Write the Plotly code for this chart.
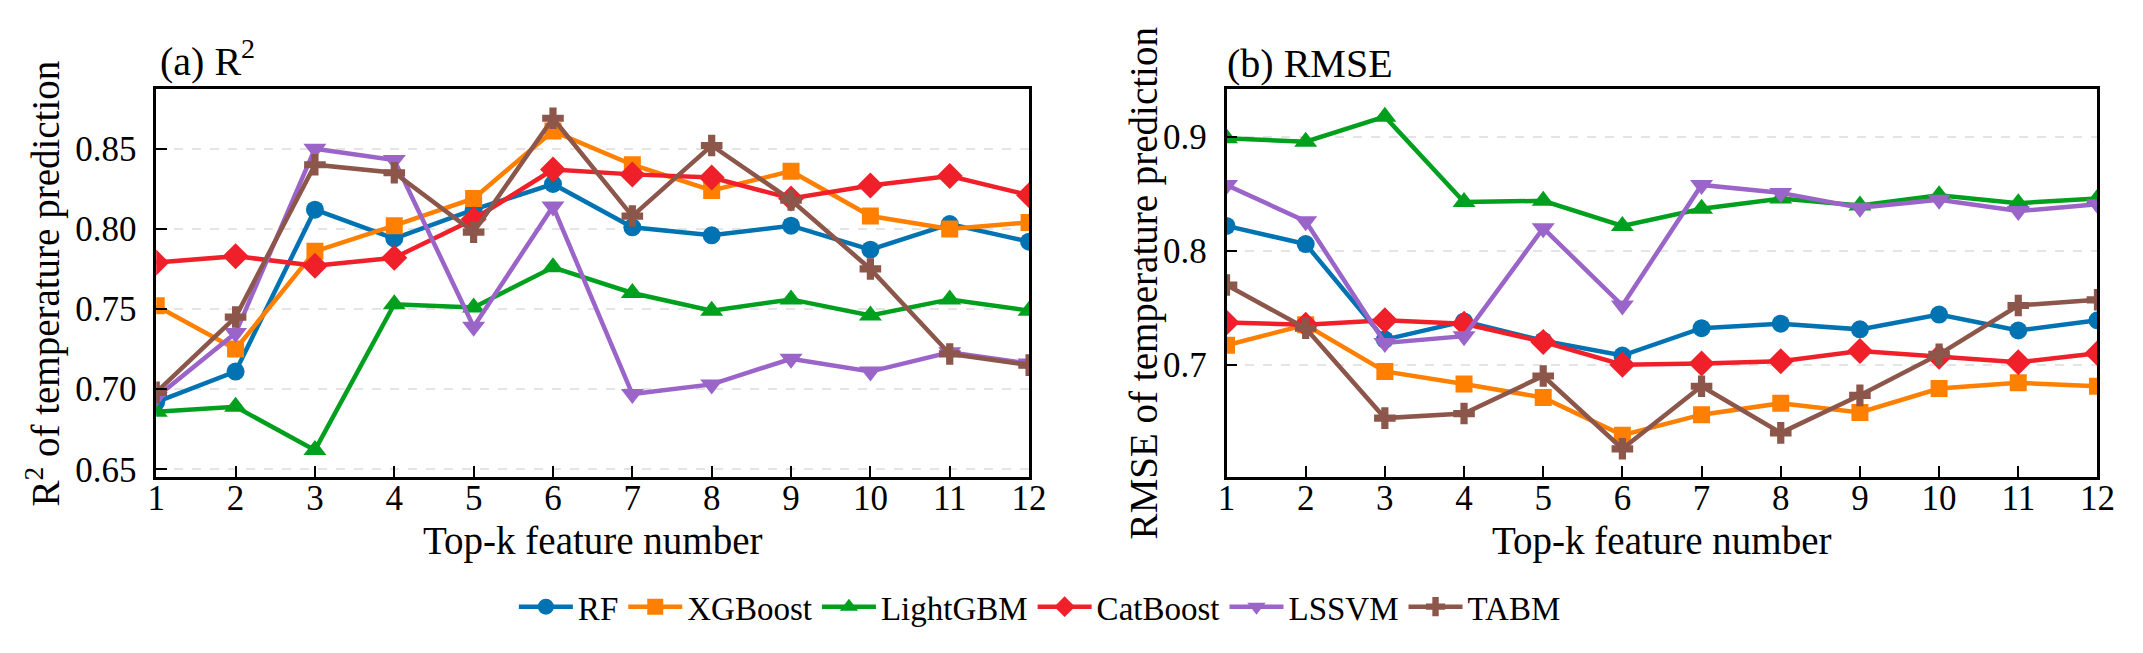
import plotly.graph_objects as go

k = list(range(1, 13))
models = ["RF", "XGBoost", "LightGBM", "CatBoost", "LSSVM", "TABM"]

# R2 per top-k
r2_rf = [0.692, 0.711, 0.812, 0.794, 0.812, 0.828, 0.801, 0.796, 0.802, 0.787, 0.803, 0.792]
r2_xgb = [0.752, 0.725, 0.786, 0.802, 0.819, 0.861, 0.840, 0.824, 0.836, 0.808, 0.800, 0.804]
r2_lgbm = [0.686, 0.689, 0.662, 0.753, 0.751, 0.776, 0.760, 0.749, 0.756, 0.746, 0.756, 0.749]
r2_cat = [0.779, 0.783, 0.777, 0.782, 0.806, 0.837, 0.834, 0.832, 0.819, 0.827, 0.833, 0.821]
r2_lssvm = [0.695, 0.735, 0.850, 0.843, 0.739, 0.814, 0.697, 0.703, 0.719, 0.711, 0.723, 0.716]
r2_tabm = [0.698, 0.745, 0.840, 0.835, 0.798, 0.869, 0.808, 0.852, 0.818, 0.775, 0.722, 0.715]

# RMSE per top-k
rmse_rf = [0.822, 0.806, 0.722, 0.738, 0.721, 0.708, 0.732, 0.736, 0.731, 0.744, 0.730, 0.739]
rmse_xgb = [0.717, 0.735, 0.694, 0.683, 0.671, 0.638, 0.656, 0.666, 0.658, 0.679, 0.684, 0.681]
rmse_lgbm = [0.899, 0.896, 0.918, 0.843, 0.844, 0.822, 0.837, 0.846, 0.840, 0.849, 0.842, 0.846]
rmse_cat = [0.737, 0.735, 0.739, 0.736, 0.720, 0.700, 0.701, 0.703, 0.712, 0.707, 0.702, 0.710]
rmse_lssvm = [0.858, 0.826, 0.719, 0.725, 0.820, 0.752, 0.858, 0.851, 0.838, 0.845, 0.835, 0.841]
rmse_tabm = [0.770, 0.732, 0.653, 0.657, 0.690, 0.626, 0.681, 0.640, 0.673, 0.709, 0.752, 0.757]

r2_ticks = [0.65, 0.70, 0.75, 0.80, 0.85]
rmse_ticks = [0.7, 0.8, 0.9]

colors = ["#0173b2", "#ff8000", "#00a01e", "#f0202a", "#9b64c8", "#8c564b"]
symbols = ["circle", "square", "triangle-up", "diamond", "triangle-down", "cross"]
sizes = [18, 17, 20, 20, 20, 18]

FONT = "Times New Roman, Liberation Serif, serif"

r2_all = [r2_rf, r2_xgb, r2_lgbm, r2_cat, r2_lssvm, r2_tabm]
rmse_all = [rmse_rf, rmse_xgb, rmse_lgbm, rmse_cat, rmse_lssvm, rmse_tabm]

fig = go.Figure()
for i, name in enumerate(models):
    style = dict(mode="lines+markers", name=name, legendgroup=name,
                 line=dict(color=colors[i], width=4.5),
                 marker=dict(symbol=symbols[i], size=sizes[i], color=colors[i]))
    fig.add_trace(go.Scatter(x=k, y=r2_all[i], xaxis="x", yaxis="y", showlegend=True, **style))
    fig.add_trace(go.Scatter(x=k, y=rmse_all[i], xaxis="x2", yaxis="y2", showlegend=False, **style))

axis_common = dict(showline=True, linecolor="black", linewidth=2.5, mirror=True,
                   ticks="inside", ticklen=11, tickwidth=2, tickcolor="black",
                   tickfont=dict(family=FONT, size=35, color="black"), zeroline=False)

xax = dict(axis_common, range=[1, 12], tickvals=k, showgrid=False, ticklabelstandoff=-12)
grid = dict(showgrid=True, gridcolor="#e4e4e4", gridwidth=1.5, griddash="dash",
            ticklabelstandoff=10)
fig.update_layout(
    width=2143, height=653,
    paper_bgcolor="white", plot_bgcolor="white",
    margin=dict(l=0, r=0, t=0, b=0),
    font=dict(family=FONT, color="black"),
    xaxis=dict(xax, domain=[0.0658, 0.4783], anchor="y"),
    xaxis2=dict(xax, domain=[0.5716, 0.9832], anchor="y2"),
    yaxis=dict(axis_common, **grid, domain=[0.268, 0.873], anchor="x", range=[0.6451, 0.887],
               tickvals=r2_ticks, ticktext=["%.2f" % v for v in r2_ticks]),
    yaxis2=dict(axis_common, **grid, domain=[0.268, 0.873], anchor="x2", range=[0.601, 0.942],
                tickvals=rmse_ticks, ticktext=["%.1f" % v for v in rmse_ticks]),
    legend=dict(orientation="h", x=0.4834, xanchor="center", y=0.066, yanchor="middle",
                itemwidth=54,
                font=dict(family=FONT, size=33, color="black"), bgcolor="rgba(0,0,0,0)"),
)

ann_font = dict(family=FONT, size=39, color="black")
annotations = [
    dict(text="Top-k feature number", x=0.272, y=0.1685, xref="paper", yref="paper",
         xanchor="center", yanchor="middle", showarrow=False, font=ann_font),
    dict(text="Top-k feature number", x=0.777, y=0.1685, xref="paper", yref="paper",
         xanchor="center", yanchor="middle", showarrow=False, font=ann_font),
    dict(text="R<sup>2</sup> of temperature prediction", x=0.0126, y=0.5697, xref="paper",
         yref="paper", xanchor="center", yanchor="middle", textangle=-90, showarrow=False,
         font=ann_font),
    dict(text="RMSE of temperature prediction", x=0.5324, y=0.5697, xref="paper",
         yref="paper", xanchor="center", yanchor="middle", textangle=-90, showarrow=False,
         font=ann_font),
    dict(text="(a) R<sup>2</sup>", x=0.0667, y=0.921, xref="paper", yref="paper",
         xanchor="left", yanchor="middle", showarrow=False, font=dict(ann_font, size=40)),
    dict(text="(b) RMSE", x=0.5707, y=0.9135, xref="paper", yref="paper",
         xanchor="left", yanchor="middle", showarrow=False, font=dict(ann_font, size=40)),
]
fig.update_layout(annotations=annotations)

fig.write_html("out.html")
